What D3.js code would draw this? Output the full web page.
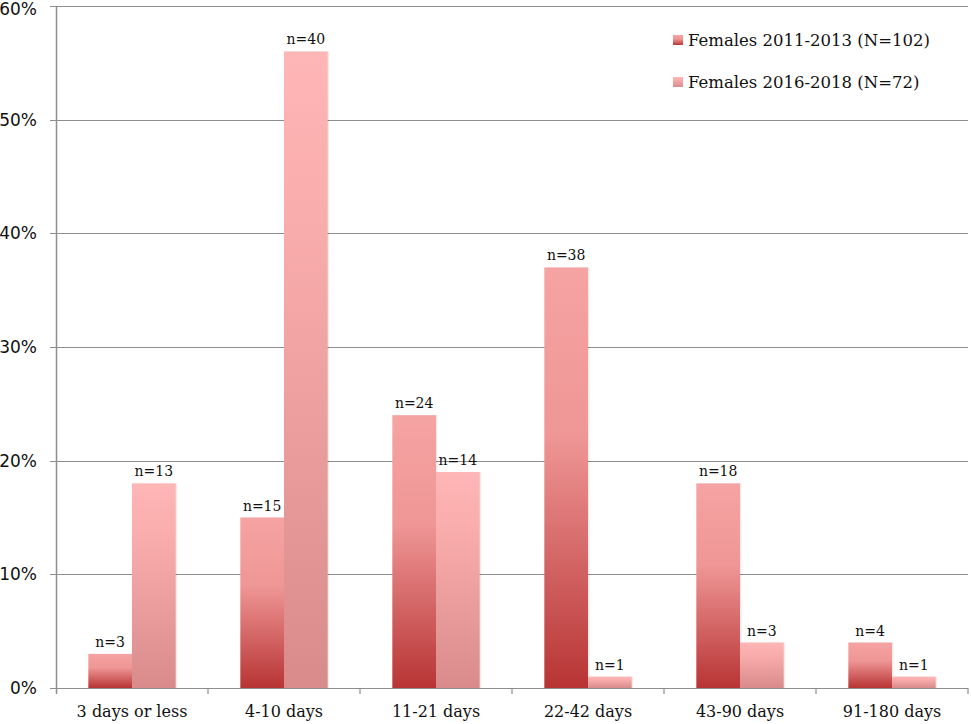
<!DOCTYPE html>
<html>
<head>
<meta charset="utf-8">
<script src="https://d3js.org/d3.v7.min.js"></script>
<style>
  body { margin: 0; background: #fff; }
  svg { display: block; }
</style>
</head>
<body>
<div id="chart"></div>
<script>
// chart data
var categories = ["3 days or less", "4-10 days", "11-21 days", "22-42 days", "43-90 days", "91-180 days"];
var seriesNames = ["Females 2011-2013 (N=102)", "Females 2016-2018 (N=72)"];
var values2011 = [3, 15, 24, 37, 18, 4];
var values2016 = [18, 56, 19, 1, 4, 1];
var counts2011 = [3, 15, 24, 38, 18, 4];
var counts2016 = [13, 40, 14, 1, 3, 1];
var yTicks = [0, 10, 20, 30, 40, 50, 60];

var svgWidth = 971;
var svgHeight = 724;
var margin = { top: 6, right: 3, bottom: 36, left: 56 };
var width = svgWidth - margin.left - margin.right;
var height = svgHeight - margin.top - margin.bottom;

var svg = d3.select("#chart")
    .append("svg")
    .attr("width", svgWidth)
    .attr("height", svgHeight);

// gradients for the bars
var defs = svg.append("defs");
var grad1 = defs.append("linearGradient").attr("id", "g1")
    .attr("x1", 0).attr("y1", 0).attr("x2", 0).attr("y2", 1);
grad1.append("stop").attr("offset", "0%").attr("stop-color", "#f6a3a3");
grad1.append("stop").attr("offset", "40%").attr("stop-color", "#ef9696");
grad1.append("stop").attr("offset", "100%").attr("stop-color", "#b83434");
var grad2 = defs.append("linearGradient").attr("id", "g2")
    .attr("x1", 0).attr("y1", 0).attr("x2", 0).attr("y2", 1);
grad2.append("stop").attr("offset", "0%").attr("stop-color", "#ffb6b6");
grad2.append("stop").attr("offset", "30%").attr("stop-color", "#f8abab");
grad2.append("stop").attr("offset", "100%").attr("stop-color", "#d98b8b");

var chartGroup = svg.append("g")
    .attr("transform", `translate(${margin.left}, ${margin.top})`);

var xScale = d3.scaleBand().domain(categories).range([0, width]).paddingInner(0).paddingOuter(0);
var xInner = d3.scaleBand().domain([0, 1]).range([0, xScale.bandwidth()]).paddingOuter(0.74).paddingInner(0);
var yScale = d3.scaleLinear().domain([0, 60]).range([height, 0]);

// gridlines
chartGroup.append("g")
    .selectAll("line")
    .data(yTicks)
    .enter()
    .append("line")
    .attr("x1", -6)
    .attr("x2", width)
    .attr("y1", d => Math.round(yScale(d)) + 0.5)
    .attr("y2", d => Math.round(yScale(d)) + 0.5)
    .attr("stroke", "#8e8e8e")
    .attr("stroke-width", 1.2);

// y labels (top one kept inside the page)
chartGroup.append("g")
    .selectAll("text")
    .data(yTicks)
    .enter()
    .append("text")
    .attr("x", -19)
    .attr("y", d => Math.max(yScale(d), 3))
    .attr("dy", "0.35em")
    .attr("text-anchor", "end")
    .style("font-family", "'DejaVu Sans', sans-serif")
    .style("font-size", "17px")
    .attr("fill", "#111")
    .text(d => d + "%");

// bars
var groups = chartGroup.selectAll(".cat")
    .data(categories)
    .enter()
    .append("g")
    .attr("transform", d => `translate(${xScale(d)},0)`);

var seriesVals = [values2011, values2016];
var seriesCounts = [counts2011, counts2016];

[0, 1].forEach(function(s) {
    groups.append("rect")
        .attr("x", xInner(s) + 1.5)
        .attr("width", xInner.bandwidth())
        .attr("y", (d, i) => yScale(seriesVals[s][i]))
        .attr("height", (d, i) => height - yScale(seriesVals[s][i]))
        .attr("fill", "rgba(0,0,0,0.08)");
    groups.append("rect")
        .attr("x", xInner(s))
        .attr("width", xInner.bandwidth())
        .attr("y", (d, i) => yScale(seriesVals[s][i]))
        .attr("height", (d, i) => height - yScale(seriesVals[s][i]))
        .attr("fill", s === 0 ? "url(#g1)" : "url(#g2)");
    groups.append("text")
        .attr("x", xInner(s) + xInner.bandwidth() / 2)
        .attr("y", (d, i) => yScale(seriesVals[s][i]) - 7)
        .attr("text-anchor", "middle")
        .style("font-family", "'DejaVu Serif', serif")
        .style("font-size", "14px")
        .attr("fill", "#111")
        .text((d, i) => "n=" + seriesCounts[s][i]);
});

// axes lines
chartGroup.append("line")
    .attr("x1", 0.5).attr("x2", 0.5)
    .attr("y1", 0).attr("y2", height + 6)
    .attr("stroke", "#8e8e8e").attr("stroke-width", 1.5);
chartGroup.append("g")
    .selectAll("line")
    .data(categories)
    .enter()
    .append("line")
    .attr("x1", d => xScale(d) + xScale.bandwidth())
    .attr("x2", d => xScale(d) + xScale.bandwidth())
    .attr("y1", height)
    .attr("y2", height + 6)
    .attr("stroke", "#8e8e8e").attr("stroke-width", 1.2);

// x labels
chartGroup.append("g")
    .selectAll("text")
    .data(categories)
    .enter()
    .append("text")
    .attr("x", d => xScale(d) + xScale.bandwidth() / 2)
    .attr("y", height + 29)
    .attr("text-anchor", "middle")
    .style("font-family", "'DejaVu Serif', serif")
    .style("font-size", "16px")
    .attr("fill", "#111")
    .text(d => d);

// legend
var legend = svg.append("g")
    .selectAll("g")
    .data(seriesNames)
    .enter()
    .append("g")
    .attr("transform", (d, i) => `translate(673, ${40 + i * 42})`);
legend.append("rect")
    .attr("x", 0).attr("y", -5)
    .attr("width", 10).attr("height", 10)
    .attr("fill", (d, i) => i === 0 ? "url(#g1)" : "url(#g2)");
legend.append("text")
    .attr("x", 15)
    .attr("y", 0)
    .attr("dy", "0.35em")
    .style("font-family", "'DejaVu Serif', serif")
    .style("font-size", "16.5px")
    .attr("fill", "#111")
    .text(d => d);
</script>
</body>
</html>
